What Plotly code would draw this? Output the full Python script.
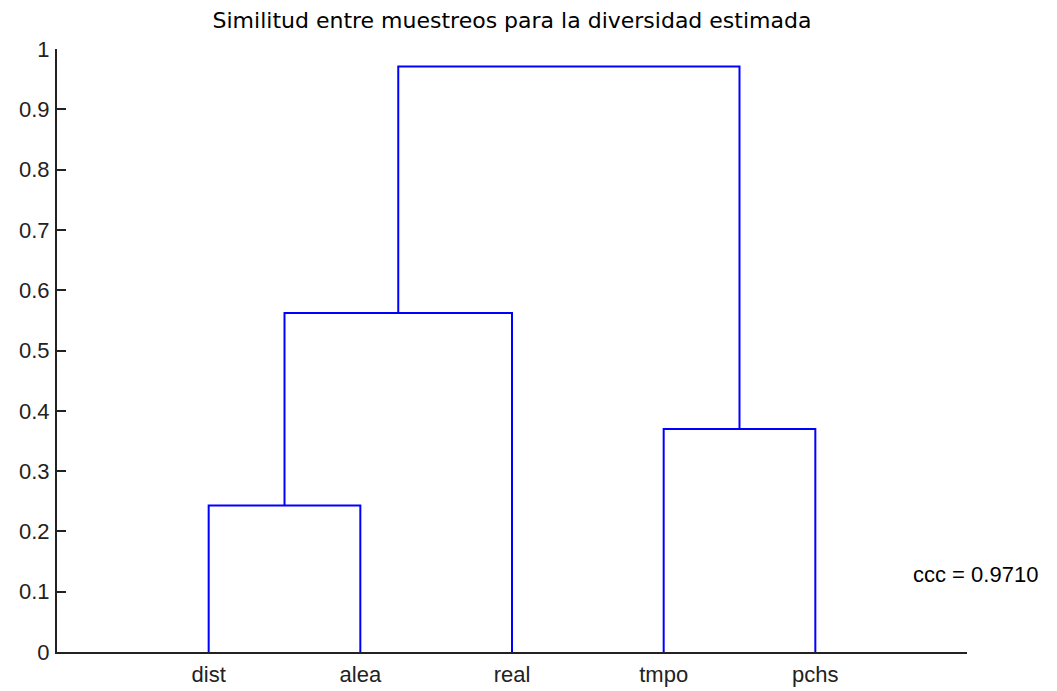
import plotly.graph_objects as go

# Leaves in display order and their dendrogram positions
leaf_labels = ["dist", "alea", "real", "tmpo", "pchs"]

# Linkage: (left cluster id, right cluster id, merge height)
# ids 0..4 are leaves, 5.. are the clusters created by each merge in turn
merge_left = [0, 3, 5, 7]
merge_right = [1, 4, 2, 6]
merge_height = [0.243, 0.370, 0.562, 0.971]

coph_corr = 0.9710

y_ticks = [0, 0.1, 0.2, 0.3, 0.4, 0.5, 0.6, 0.7, 0.8, 0.9, 1]

# x position and height of every node
node_x = {i: i + 1 for i in range(len(leaf_labels))}
node_h = {i: 0.0 for i in range(len(leaf_labels))}

seg_x, seg_y = [], []
for k, (a, b, h) in enumerate(zip(merge_left, merge_right, merge_height)):
    nid = len(leaf_labels) + k
    xa, xb = node_x[a], node_x[b]
    seg_x += [xa, xa, xb, xb, None]
    seg_y += [node_h[a], h, h, node_h[b], None]
    node_x[nid] = (xa + xb) / 2
    node_h[nid] = h

FONT = "Liberation Sans, Arial, sans-serif"
TITLE_FONT = "DejaVu Sans, sans-serif"

fig = go.Figure()
fig.add_trace(go.Scatter(
    x=seg_x, y=seg_y, mode="lines",
    line=dict(color="#0000FF", width=2),
    hoverinfo="skip", showlegend=False,
))

fig.add_annotation(
    x=5.63, y=0.128, xref="x", yref="y",
    text=f"ccc = {coph_corr:.4f}", showarrow=False,
    xanchor="left", yanchor="middle",
    font=dict(family=FONT, size=22, color="#000000"),
)

fig.update_layout(
    width=1057, height=691,
    margin=dict(l=57, r=90, t=49, b=39),
    paper_bgcolor="white", plot_bgcolor="white",
    title=dict(
        text="Similitud entre muestreos para la diversidad estimada",
        x=(57 + 967) / 2 / 1057, xanchor="center",
        y=1 - 20 / 691, yanchor="middle", yref="container",
        font=dict(family=TITLE_FONT, size=22, color="#000000"),
    ),
    font=dict(family=FONT, size=22, color="#222222"),
)

fig.update_xaxes(
    range=[0, 6], automargin=False,
    tickmode="array", tickvals=list(range(1, len(leaf_labels) + 1)), ticktext=leaf_labels,
    ticks="", showgrid=False, zeroline=False,
    showline=True, linecolor="#222222", linewidth=2,
    ticklabelstandoff=2,
    tickfont=dict(family=FONT, size=22, color="#222222"),
)
fig.update_yaxes(
    range=[0, 1], automargin=False,
    tickmode="array", tickvals=y_ticks,
    ticktext=[f"{v:g}" for v in y_ticks],
    ticks="inside", ticklen=9, tickwidth=2, tickcolor="#222222",
    showgrid=False, zeroline=False,
    showline=True, linecolor="#222222", linewidth=2,
    ticklabelstandoff=1,
    tickfont=dict(family=FONT, size=22, color="#222222"),
)

fig.write_html("out.html")
